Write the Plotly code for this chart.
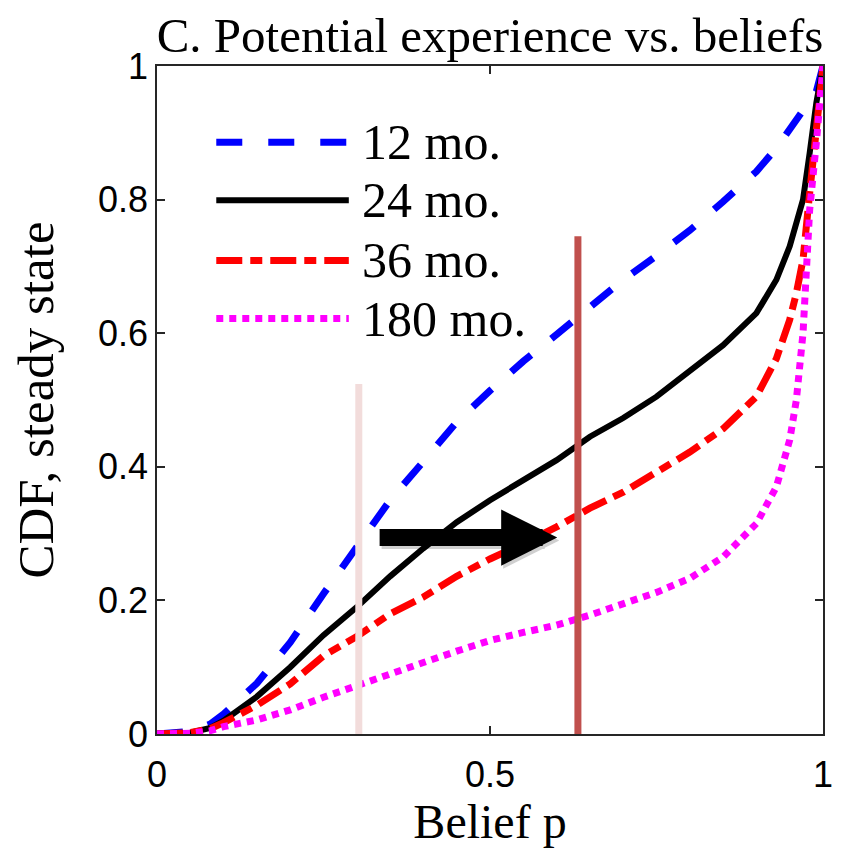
import plotly.graph_objects as go

# ---- data ----
belief = [0.0, 0.05, 0.08, 0.10, 0.15, 0.20, 0.25, 0.30, 0.35, 0.40, 0.45, 0.50,
          0.55, 0.60, 0.65, 0.70, 0.75, 0.80, 0.85, 0.90, 0.93, 0.95, 0.96,
          0.97, 0.98, 0.99, 1.0]

cdf_12 = [0.0, 0.004, 0.015, 0.030, 0.076, 0.137, 0.210, 0.282, 0.350, 0.408, 0.467, 0.514,
          0.558, 0.598, 0.640, 0.680, 0.716, 0.754, 0.797, 0.842, 0.877, 0.904, 0.918,
          0.933, 0.945, 0.962, 1.0]
cdf_24 = [0.0, 0.002, 0.009, 0.020, 0.056, 0.100, 0.148, 0.190, 0.236, 0.278, 0.317, 0.350,
          0.380, 0.410, 0.445, 0.473, 0.505, 0.543, 0.582, 0.630, 0.680, 0.730, 0.762,
          0.800, 0.870, 0.945, 1.0]
cdf_36 = [0.0, 0.002, 0.008, 0.017, 0.043, 0.075, 0.117, 0.146, 0.180, 0.205, 0.236, 0.262,
          0.285, 0.310, 0.338, 0.362, 0.392, 0.422, 0.457, 0.505, 0.562, 0.620, 0.660,
          0.710, 0.810, 0.910, 1.0]
cdf_180 = [0.0, 0.001, 0.005, 0.011, 0.021, 0.036, 0.055, 0.073, 0.090, 0.107, 0.124, 0.140,
           0.152, 0.163, 0.178, 0.195, 0.212, 0.233, 0.265, 0.315, 0.370, 0.440, 0.500,
           0.600, 0.785, 0.885, 1.0]

series_names = ["12 mo.", "24 mo.", "36 mo.", "180 mo."]
series_values = [cdf_12, cdf_24, cdf_36, cdf_180]
series_colors = ["#0000FF", "#000000", "#FF0000", "#FF00FF"]
series_dash = ["26px,26px", "solid", "26px,8px,12px,8px", "7px,6px"]
series_width = [7, 6, 7, 7]

marker_x = [0.303, 0.632]
marker_top = [0.524, 0.745]
marker_colors = ["#F2DCDB", "#C0504D"]

arrow_from = (0.332, 0.294)
arrow_to = (0.601, 0.294)

x_ticks = [0, 0.5, 1]
x_ticklabels = ["0", "0.5", "1"]
y_ticks = [0, 0.2, 0.4, 0.6, 0.8, 1]
y_ticklabels = ["0", "0.2", "0.4", "0.6", "0.8", "1"]

SERIF = "Liberation Serif, Times New Roman, serif"
SANS = "Liberation Sans, Arial, sans-serif"

fig = go.Figure()

for name, vals, col, dash, w in zip(series_names, series_values, series_colors,
                                     series_dash, series_width):
    fig.add_trace(go.Scatter(x=belief, y=vals, mode="lines", name=name,
                             line=dict(color=col, dash=dash, width=w),
                             showlegend=False))

for mx, mt, mc in zip(marker_x, marker_top, marker_colors):
    fig.add_trace(go.Scatter(x=[mx, mx], y=[0, mt], mode="lines",
                             line=dict(color=mc, width=7), showlegend=False,
                             hoverinfo="skip"))

# arrow with a soft shadow
for col, xs, ys in [("rgba(0,0,0,0.18)", 2, -3), ("#000000", 0, 0)]:
    fig.add_annotation(x=arrow_to[0], y=arrow_to[1], ax=arrow_from[0], ay=arrow_from[1],
                       xref="x", yref="y", axref="x", ayref="y", text="",
                       showarrow=True, arrowhead=2, arrowsize=0.66, arrowwidth=17,
                       arrowcolor=col, xshift=xs, yshift=ys)

# manual legend (long sample lines as in the reference)
leg_x0, leg_x1, leg_text_x = 0.089, 0.288, 0.305
leg_rows = [0.886, 0.799, 0.709, 0.622]
for name, col, dash, w, ry in zip(series_names, series_colors, series_dash,
                                  series_width, leg_rows):
    fig.add_shape(type="line", xref="x domain", yref="y domain",
                  x0=leg_x0, x1=leg_x1, y0=ry, y1=ry,
                  line=dict(color=col, dash=dash, width=w))
    fig.add_annotation(xref="x domain", yref="y domain", x=leg_text_x, y=ry,
                       text=name, showarrow=False, xanchor="left", yanchor="middle",
                       font=dict(family=SERIF, size=50, color="#000000"))

axis_common = dict(range=[0, 1], showline=True, linecolor="#262626", linewidth=1.5,
                   mirror="ticks", ticks="inside", ticklen=8, tickwidth=1.5,
                   tickcolor="#262626", showgrid=False, zeroline=False,
                   tickfont=dict(family=SANS, size=36, color="#000000"))

fig.update_xaxes(**axis_common, tickvals=x_ticks, ticktext=x_ticklabels,
                 ticklabelstandoff=8,
                 title=dict(text="Belief p", font=dict(family=SERIF, size=48, color="#000000"),
                            standoff=6))
fig.update_yaxes(**axis_common, tickvals=y_ticks, ticktext=y_ticklabels,
                 title=dict(text="CDF, steady state",
                            font=dict(family=SERIF, size=51, color="#000000"),
                            standoff=28))

fig.update_layout(
    width=850, height=844,
    margin=dict(l=149, r=35, t=58, b=118),
    plot_bgcolor="#FFFFFF", paper_bgcolor="#FFFFFF",
    title=dict(text="C. Potential experience vs. beliefs", x=0.5, xref="paper",
               xanchor="center", y=1, yref="paper", yanchor="bottom",
               pad=dict(b=14), font=dict(family=SERIF, size=49, color="#000000")),
)

fig.write_html("out.html")
